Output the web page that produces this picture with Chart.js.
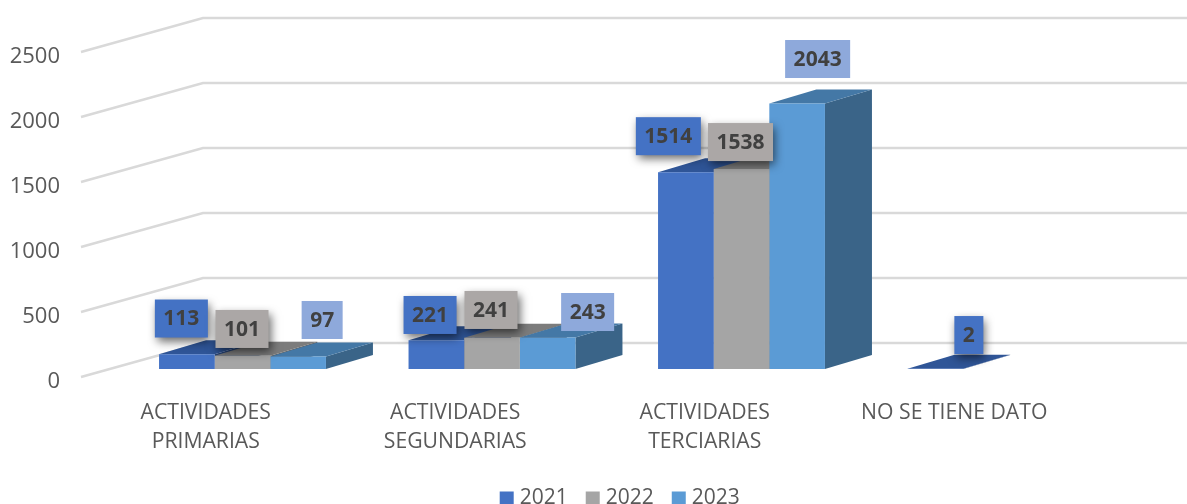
<!DOCTYPE html>
<html>
<head>
<meta charset="utf-8">
<style>html,body{margin:0;padding:0;background:#fff;overflow:hidden}canvas{display:block}</style>
<script src="https://cdn.jsdelivr.net/npm/chart.js@4"></script>
</head>
<body>
<canvas id="c" width="1187" height="504"></canvas>
<script>
const categories = [["ACTIVIDADES","PRIMARIAS"],["ACTIVIDADES","SEGUNDARIAS"],["ACTIVIDADES","TERCIARIAS"],"NO SE TIENE DATO"];
const seriesNames = ["2021","2022","2023"];
const series2021 = [113,221,1514,2];
const series2022 = [101,241,1538,null];
const series2023 = [97,243,2043,null];
const yMax = 2500;
const yStep = 500;

// styling
const frontColors = ["#4472C4","#A5A5A5","#5B9BD5"];
const topColors = ["#2F5597","#7C7C7C","#4478A6"];
const sideColors = ["#264478","#636363","#3A6488"];
const labelBoxColors = ["#4472C4","#ABA7A6","#8EA9DB"];
const labelShadow = [true,true,false];
// label box offsets relative to each bar's top centre (manually placed labels in the original)
const labelOffsets = [
  [[-5.5,-35.8],[-6.3,-25.3],[-17.5,-36],[33.5,-33.7]],
  [[-0.5,-26.9],[-1,-27.7],[-1,-27],null],
  [[24,-36.4],[40,-25.4],[20.5,-44.4],null]
];
const wall = {dx:122, dy:-34};
const barShift = {dx:36.75, dy:-8};
const barDepth = {dx:47, dy:-14};
const gridColor = "#D9D9D9";
const textColor = "#595959";
const labelFont = "bold 21px 'Open Sans'";

const threeD = {
  id:'threeD',
  afterLayout(chart){
    const l = chart.legend;
    l.top += 15; l.bottom += 15;
    l.left += 82.5; l.right += 82.5;
    const y = chart.scales.y;
    if(!y._shifted){
      y._shifted = true;
      const orig = y.drawLabels;
      y.drawLabels = function(a){
        const c = this.ctx; c.save(); c.translate(0,5); orig.call(this,a); c.restore();
      };
    }
  },
  beforeDatasetsDraw(chart){
    const {ctx, scales:{y}} = chart;
    const x0 = chart.chartArea.left;
    ctx.save();
    ctx.strokeStyle = gridColor; ctx.lineWidth = 2.5;
    y.ticks.forEach(t=>{
      const py = y.getPixelForValue(t.value);
      ctx.beginPath();
      ctx.moveTo(x0,py);
      ctx.lineTo(x0+wall.dx,py+wall.dy);
      ctx.lineTo(chart.width,py+wall.dy);
      ctx.stroke();
    });
    ctx.restore();
    ctx.save();
    ctx.translate(barShift.dx,barShift.dy);
    chart.data.datasets.forEach((ds,i)=>{
      chart.getDatasetMeta(i).data.forEach((el,j)=>{
        if(ds.data[j]==null) return;
        const {x,y:top,base,width} = el.getProps(['x','y','base','width'],true);
        const L=x-width/2,R=x+width/2,dx=barDepth.dx,dy=barDepth.dy;
        ctx.fillStyle = sideColors[i];
        ctx.beginPath();
        ctx.moveTo(R,top);ctx.lineTo(R+dx,top+dy);ctx.lineTo(R+dx,base+dy);ctx.lineTo(R,base);ctx.closePath();ctx.fill();
        ctx.fillStyle = topColors[i];
        ctx.beginPath();
        ctx.moveTo(L,top);ctx.lineTo(L+dx,top+dy);ctx.lineTo(R+dx,top+dy);ctx.lineTo(R,top);ctx.closePath();ctx.fill();
      });
    });
  },
  afterDatasetsDraw(chart){
    const {ctx} = chart;
    ctx.restore();
    chart.data.datasets.forEach((ds,i)=>{
      chart.getDatasetMeta(i).data.forEach((el,j)=>{
        if(ds.data[j]==null) return;
        const {x,y:top} = el.getProps(['x','y'],true);
        const off = labelOffsets[i][j];
        const cx = x+barShift.dx+off[0], cy = top+barShift.dy+off[1];
        const txt = String(ds.data[j]);
        ctx.save();
        ctx.font = labelFont;
        const w = ctx.measureText(txt).width+17, h = 38;
        if(labelShadow[i]){
          ctx.shadowColor="rgba(0,0,0,0.6)";ctx.shadowBlur=9;ctx.shadowOffsetX=2;ctx.shadowOffsetY=4;
        }
        ctx.fillStyle = labelBoxColors[i];
        ctx.fillRect(cx-w/2,cy-h/2,w,h);
        ctx.shadowColor="transparent";ctx.shadowBlur=0;ctx.shadowOffsetX=0;ctx.shadowOffsetY=0;
        ctx.fillStyle="#404040";
        ctx.textAlign="center";ctx.textBaseline="middle";
        ctx.fillText(txt,cx,cy+1);
        ctx.restore();
      });
    });
  }
};

const seriesValues = [series2021,series2022,series2023];
new Chart(document.getElementById('c'),{
  type:'bar',
  data:{
    labels:categories,
    datasets:seriesNames.map((n,i)=>({
      label:n,data:seriesValues[i],backgroundColor:frontColors[i],borderWidth:0,
      barPercentage:1,categoryPercentage:0.669,clip:false
    }))
  },
  options:{
    responsive:false,animation:false,
    layout:{padding:{top:52,right:108,left:0,bottom:0}},
    plugins:{
      tooltip:{enabled:false},
      legend:{
        position:'bottom',align:'center',
        labels:{
          usePointStyle:true,pointStyle:'rect',boxWidth:5,boxHeight:14,padding:22.5,
          color:textColor,font:{family:"'Open Sans'",size:21}
        }
      }
    },
    scales:{
      x:{
        grid:{display:false},border:{display:false},
        afterFit(s){s.height=73.5;},
        ticks:{color:textColor,font:{family:"'Open Sans'",size:21.2,lineHeight:1.38},maxRotation:0,minRotation:0,autoSkip:false,padding:13}
      },
      y:{
        min:0,max:yMax,
        grid:{display:false},border:{display:false},
        afterFit(s){s.width=81;},
        ticks:{stepSize:yStep,color:textColor,font:{family:"'Open Sans'",size:22},padding:13,callback:v=>String(v)}
      }
    }
  },
  plugins:[threeD]
});
</script>
</body>
</html>
